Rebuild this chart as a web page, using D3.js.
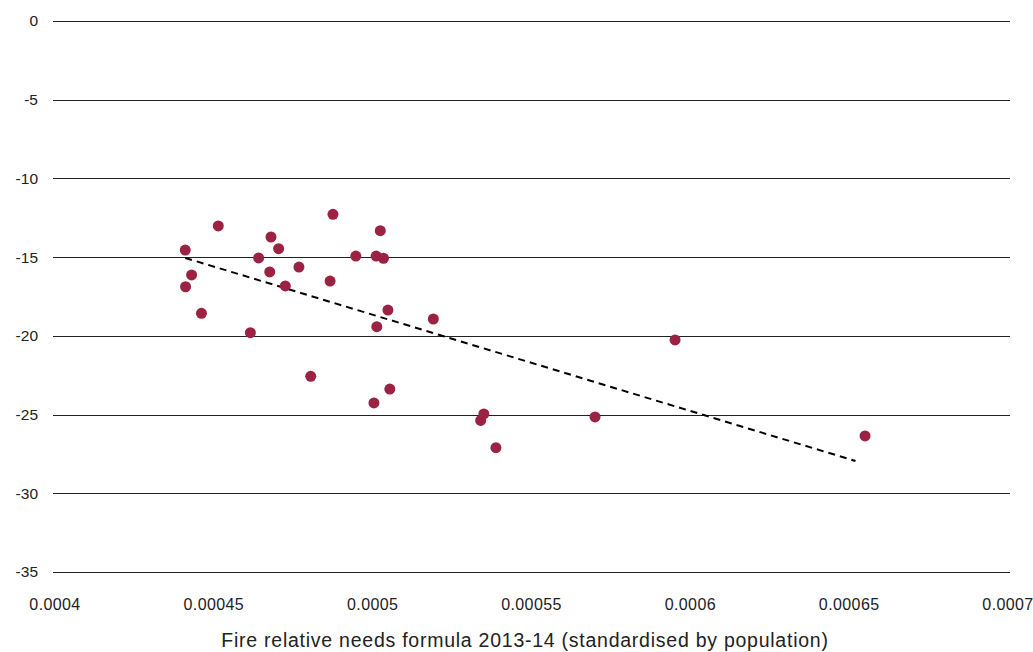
<!DOCTYPE html>
<html lang="en">
    <head>
        <meta charset="utf-8">
        <title>Fire relative needs scatter</title>
        <script type="text/javascript" src="https://cdn.jsdelivr.net/npm/d3@7"></script>
        <style type="text/css">
            body { margin: 0; background: #fff; }
            text { font-family: "Liberation Sans", Arial, sans-serif; fill: #222; }
            .grid line { stroke: #222; stroke-width: 1; shape-rendering: crispEdges; }
            .trend { fill: none; stroke: #000; stroke-width: 2; stroke-dasharray: 7,5; }
        </style>
    </head>
    <body>
        <script type="text/javascript">

        //Width and height
        var w = 1033;
        var h = 652;

        // data
        var xValues = [0.0004410, 0.0004430, 0.0004411, 0.0004461, 0.0004514, 0.0004615, 0.0004641, 0.0004680, 0.0004676, 0.0004704,
                       0.0004725, 0.0004768, 0.0004805, 0.0004875, 0.0004866, 0.0004947, 0.0005004, 0.0005011, 0.0005013, 0.0005024,
                       0.0005034, 0.0005048, 0.0005054, 0.0005191, 0.0005340, 0.0005350, 0.0005388, 0.0005700, 0.0005952, 0.0006550];
        var yValues = [-14.55, -16.13, -16.88, -18.57, -13.02, -19.80, -15.05, -13.72, -15.94, -14.46,
                       -16.83, -15.63, -22.57, -12.28, -16.52, -14.93, -24.26, -14.93, -19.42, -13.32,
                       -15.07, -18.36, -23.38, -18.93, -25.37, -24.96, -27.10, -25.15, -20.26, -26.36];

        // dashed trend line end points
        var trendX = [0.000441, 0.000652];
        var trendY = [-15.05, -27.95];

        var xTicks = [0.0004, 0.00045, 0.0005, 0.00055, 0.0006, 0.00065, 0.0007];
        var xTickLabels = ["0.0004", "0.00045", "0.0005", "0.00055", "0.0006", "0.00065", "0.0007"];
        var yTicks = [0, -5, -10, -15, -20, -25, -30, -35];
        var xTitle = "Fire relative needs formula 2013-14 (standardised by population)";

        var dataset = xValues.map(function(d, i){ return { x: d, y: yValues[i] }; });
        var trend = trendX.map(function(d, i){ return { x: d, y: trendY[i] }; });

        var xScale = d3.scaleLinear()
            .domain([0.0004, 0.0007])
            .range([55, 1008]);

        var yScale = d3.scaleLinear()
            .domain([0, -35])
            .range([21, 572]);

        var svg = d3.select("body")
            .append("svg")
            .attr("width", w)
            .attr("height", h);

        // horizontal grid lines
        svg.append("g")
            .attr("class", "grid")
            .selectAll("line")
            .data(yTicks)
            .enter()
            .append("line")
            .attr("x1", 53)
            .attr("x2", 1010)
            .attr("y1", function(d){ return Math.round(yScale(d)) + 0.5; })
            .attr("y2", function(d){ return Math.round(yScale(d)) + 0.5; });

        // y labels
        svg.append("g")
            .selectAll("text")
            .data(yTicks)
            .enter()
            .append("text")
            .attr("x", 38)
            .attr("y", function(d){ return yScale(d); })
            .attr("dy", "0.35em")
            .attr("text-anchor", "end")
            .style("font-size", "15.5px")
            .text(function(d){ return d; });

        // x labels
        svg.append("g")
            .selectAll("text")
            .data(xTicks)
            .enter()
            .append("text")
            .attr("x", function(d){ return xScale(d); })
            .attr("y", 610)
            .attr("text-anchor", "middle")
            .style("font-size", "16px")
            .style("letter-spacing", "0.4px")
            .text(function(d, i){ return xTickLabels[i]; });

        // axis title
        svg.append("text")
            .attr("x", 525)
            .attr("y", 647)
            .attr("text-anchor", "middle")
            .style("font-size", "19.5px")
            .style("letter-spacing", "0.75px")
            .text(xTitle);

        // trend line
        var line = d3.line()
            .x(function(d){ return xScale(d.x); })
            .y(function(d){ return yScale(d.y); });

        svg.append("path")
            .datum(trend)
            .attr("class", "trend")
            .attr("d", line);

        // points
        svg.append("g")
            .selectAll("circle")
            .data(dataset)
            .enter()
            .append("circle")
            .attr("cx", function(d){ return xScale(d.x); })
            .attr("cy", function(d){ return yScale(d.y); })
            .attr("r", 5.5)
            .attr("fill", "#9b2242");

        </script>
    </body>
</html>
